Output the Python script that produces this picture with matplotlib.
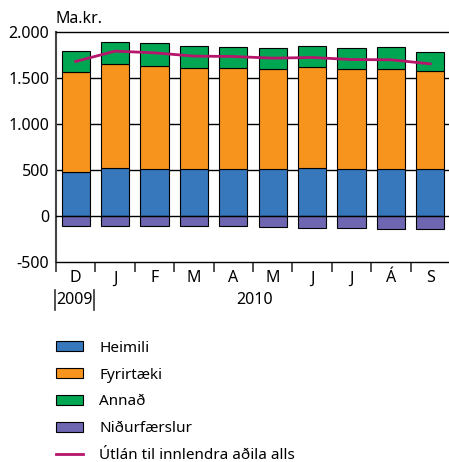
import numpy as np
import matplotlib
matplotlib.use("Agg")
import matplotlib.pyplot as plt
from matplotlib.ticker import FuncFormatter

plt.rcParams["font.family"] = ["Noto Sans", "DejaVu Sans"]

# Útlán til innlendra aðila, ma.kr.
months = ["D", "J", "F", "M", "A", "M", "J", "J", "Á", "S"]
heimili = [478, 521, 514, 507, 514, 510, 521, 510, 510, 510]
fyrirtaeki = [1082, 1126, 1122, 1104, 1097, 1083, 1094, 1086, 1090, 1065]
annad = [232, 243, 243, 235, 228, 235, 238, 232, 235, 213]
nidurfaerslur = [-112, -105, -105, -112, -112, -119, -134, -134, -138, -138]
utlan_alls = [1680, 1792, 1774, 1738, 1734, 1716, 1723, 1701, 1698, 1654]

C_BLUE = "#3777bc"
C_ORANGE = "#f7941e"
C_GREEN = "#00a651"
C_PURPLE = "#6e66b0"
C_LINE = "#b5166b"

fig = plt.figure(figsize=(4.49, 4.62), dpi=100)
ax = fig.add_axes([0.1247, 0.4329, 0.8775, 0.4978])

x = np.arange(len(months))
h = np.array(heimili)
f = np.array(fyrirtaeki)
a = np.array(annad)
w = 0.72
kw = dict(width=w, edgecolor="black", linewidth=0.8, zorder=3)

ax.bar(x, h, color=C_BLUE, label="Heimili", **kw)
ax.bar(x, f, bottom=h, color=C_ORANGE, label="Fyrirtæki", **kw)
ax.bar(x, a, bottom=h + f, color=C_GREEN, label="Annað", **kw)
ax.bar(x, nidurfaerslur, color=C_PURPLE, label="Niðurfærslur", **kw)
ax.plot(x, utlan_alls, color=C_LINE, lw=2, zorder=5,
        label="Útlán til innlendra aðila alls")

# horizontal lines behind the bars, zero line on top
for yv in (500, 1000, 1500):
    ax.axhline(yv, color="black", lw=1, zorder=1)
ax.axhline(0, color="black", lw=1, zorder=4)

ax.set_xlim(-0.5, len(months) - 0.5)
ax.set_ylim(-500, 2000)
ax.set_yticks([-500, 0, 500, 1000, 1500, 2000])
ax.yaxis.set_major_formatter(FuncFormatter(lambda v, p: f"{int(v):,}".replace(",", ".")))
ax.tick_params(axis="y", length=0, pad=5, labelsize=11.5)

ax.set_xticks(x)
ax.set_xticklabels(months)
ax.set_xticks(np.arange(-0.5, len(months), 1), minor=True)
ax.tick_params(axis="x", which="major", length=0, pad=6, labelsize=11.5)
ax.tick_params(axis="x", which="minor", length=7, width=1.2, color="#333333")

for s in ("top", "bottom"):
    ax.spines[s].set_linewidth(1.0)
ax.spines["left"].set_linewidth(1.5)
ax.spines["left"].set_color("#444444")
ax.spines["right"].set_visible(False)

fig.text(0.1247, 0.958, "Ma.kr.", fontsize=11.5, ha="left", va="center")

# year labels under the month labels
tr = ax.get_xaxis_transform()
for xv in (-0.52, 0.47):
    ax.plot([xv, xv], [-0.122, -0.209], transform=tr, color="#333333",
            lw=1.2, clip_on=False)
ax.text(-0.02, -0.165, "2009", transform=tr, ha="center", va="center", fontsize=11.5)
ax.text(4.55, -0.165, "2010", transform=tr, ha="center", va="center", fontsize=11.5)

handles, labels = ax.get_legend_handles_labels()
order = [1, 2, 3, 4, 0]
fig.legend([handles[i] for i in order], [labels[i] for i in order],
           loc="upper left", bbox_to_anchor=(0.112, 0.276), frameon=False,
           fontsize=11, handlelength=1.75, handleheight=0.65,
           handletextpad=1.05, labelspacing=0.78, borderaxespad=0)

fig.savefig("out.png", dpi=100)
